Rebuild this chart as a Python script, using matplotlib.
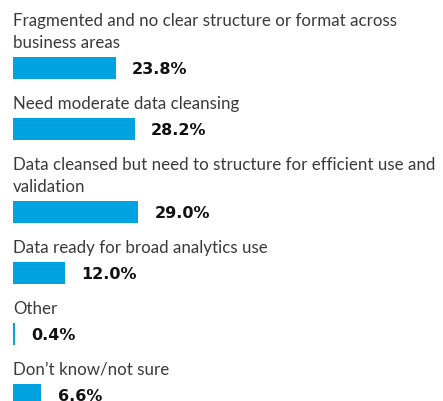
import matplotlib.pyplot as plt
from matplotlib.transforms import offset_copy

categories = [
    'Fragmented and no clear structure or format across\nbusiness areas',
    'Need moderate data cleansing',
    'Data cleansed but need to structure for efficient use and\nvalidation',
    'Data ready for broad analytics use',
    'Other',
    'Don\u2019t know/not sure',
]
values = [23.8, 28.2, 29.0, 12.0, 0.4, 6.6]
value_labels = ['23.8%', '28.2%', '29.0%', '12.0%', '0.4%', '6.6%']

BAR_COLOR = '#00a3e0'
TEXT_COLOR = '#3a3a3a'
W, H = 443, 401
LEFT = 13
PX_PER_PCT = 4.31

fig = plt.figure(figsize=(W / 100, H / 100), dpi=100)
ax = fig.add_axes([LEFT / W, 0, 1 - LEFT / W, 1])
ax.set_xlim(0, (W - LEFT) / PX_PER_PCT)
ax.set_ylim(H, 0)
ax.axis('off')

# layout in pixels: label lines, then bar, then gap
line_h = 22
bar_h = 22
baseline = 25.7
for cat, val, lab in zip(categories, values, value_labels):
    lines = cat.split('\n')
    for i, line in enumerate(lines):
        ax.text(0, baseline + i * line_h, line, va='baseline', ha='left',
                fontsize=12.2, color=TEXT_COLOR, family='Lato')
    bar_top = baseline + (len(lines) - 1) * line_h + 9
    yc = bar_top + bar_h / 2
    ax.barh(yc, val, height=bar_h, left=0, color=BAR_COLOR)
    tr = offset_copy(ax.transData, fig=fig, x=16.5 * 72 / 100, y=0, units='points')
    ax.text(val, yc + 6, lab, transform=tr, va='baseline', ha='left',
            fontsize=11.5, fontweight='bold', color='#111111', family='DejaVu Sans')
    baseline = bar_top + bar_h + 30

fig.savefig('out.png', dpi=100)
